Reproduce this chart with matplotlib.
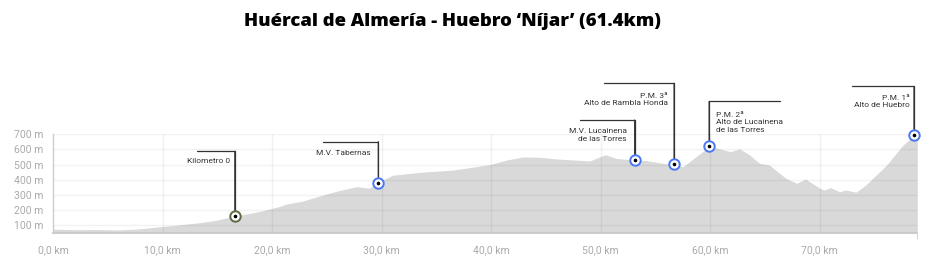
import matplotlib
matplotlib.use("Agg")
import matplotlib.pyplot as plt
from matplotlib.ticker import FuncFormatter

# ---- data ----
title = "Huércal de Almería - Huebro ‘Níjar’ (61.4km)"
km = [0, 2, 4, 5.8, 7.5, 9.8, 11.5, 13.4, 15, 16.5, 18, 19.2, 20.7, 21.3, 22.8, 24.4,
      25.9, 27.7, 28.9, 29.6, 31.0, 33.5, 36.5, 39.9, 41.4, 42.9, 44.5, 46.0, 49.0, 50.4,
      51.4, 53.0, 54.2, 55.7, 56.7, 57.5, 59.3, 59.9, 60.9, 61.8, 62.7, 63.6, 64.5, 65.4,
      66.9, 67.9, 68.7, 70.0, 70.4, 71.0, 71.8, 72.4, 73.3, 74.2, 76.1, 77.6, 78.6, 78.9]
elev = [75, 72, 73, 70, 75, 91, 103, 118, 135, 160, 180, 197, 225, 240, 260, 295,
        325, 355, 345, 381, 430, 449, 464, 500, 530, 550, 548, 537, 524, 565,
        541, 530, 526, 508, 500, 486, 585, 620, 603, 585, 603, 563, 508, 497,
        410, 377, 405, 344, 333, 348, 322, 333, 318, 366, 497, 629, 690, 695]

x_ticks = [0, 10, 20, 30, 40, 50, 60, 70]
y_ticks = [100, 200, 300, 400, 500, 600, 700]

marker_km = [16.6, 29.7, 53.1, 56.7, 59.9, 78.6]
marker_elev = [160, 381, 530, 502, 620, 692]
marker_labels = ["Kilometro 0", "M.V. Tabernas", "M.V. Lucainena\nde las Torres",
                 "P.M. 3ª\nAlto de Rambla Honda", "P.M. 2ª\nAlto de Lucainena\nde las Torres",
                 "P.M. 1ª\nAlto de Huebro"]
# callout geometry in pixels: (line up, horizontal run, text dx, text dy, side)
callout_px = [(65, -38, -5, 55, 'right'), (41, -55, -8, 30, 'right'),
              (40, -55, -8, 25, 'right'), (81, -70, -6, 65, 'right'),
              (45, 71, 7, 24, 'left'), (49, -62, -4, 34, 'right')]
marker_edge = ['#5c6b40', '#4a78f5', '#4a78f5', '#4a78f5', '#4a78f5', '#4a78f5']

# ---- figure ----
W, H, DPI = 943, 272, 100
fig = plt.figure(figsize=(W / DPI, H / DPI), dpi=DPI)
ax = fig.add_axes([53 / W, 1 - 233 / H, (917.3 - 53) / W, (233 - 134.2) / H])
ax.set_xlim(0, 78.9)
ax.set_ylim(50, 700)

ax.fill_between(km, 50, elev, color='#d9d9d9', lw=0, zorder=1)

for y in y_ticks:
    ax.axhline(y, color='black', alpha=0.05, lw=1, zorder=2)
for x in x_ticks[1:]:
    ax.axvline(x, color='black', alpha=0.05, lw=1, zorder=2)

for s in ['top', 'right']:
    ax.spines[s].set_visible(False)
ax.spines['left'].set_color('#cccccc')
ax.spines['bottom'].set_color('#c8c8c8')
ax.spines['left'].set_linewidth(1)
ax.spines['bottom'].set_linewidth(1.2)
ax.spines['left'].set_zorder(3)
ax.spines['bottom'].set_zorder(3)

ax.set_xticks(x_ticks)
ax.set_yticks(y_ticks)
ax.xaxis.set_major_formatter(FuncFormatter(lambda v, p: f"{v:.1f}".replace('.', ',') + " km"))
ax.yaxis.set_major_formatter(FuncFormatter(lambda v, p: f"{int(v)} m"))
ax.tick_params(axis='both', length=0, colors='#b0b0b0', labelsize=7.5)
ax.tick_params(axis='x', pad=9)
ax.tick_params(axis='y', pad=7)
for lab in ax.get_xticklabels() + ax.get_yticklabels():
    lab.set_fontfamily('Roboto')
    lab.set_color('#aaaaaa')
ax.set_xticks([0, 78.9], minor=True)
ax.set_yticks([700], minor=True)
ax.tick_params(which='minor', length=4, color='#cccccc', labelsize=0)

pt = 0.72
for i in range(len(marker_km)):
    up, run, tdx, tdy, side = callout_px[i]
    mx, my = marker_km[i], marker_elev[i]
    ax.annotate("", xy=(mx, my), xytext=(0, up * pt), textcoords='offset points',
                arrowprops=dict(arrowstyle='-', color='#333333', lw=0.9,
                                shrinkA=0, shrinkB=0), zorder=4)
    ax.annotate("", xy=(mx, my), xycoords='data', xytext=(run * pt, up * pt),
                textcoords='offset points', annotation_clip=False,
                arrowprops=dict(arrowstyle='-', color='#333333', lw=0.9,
                                shrinkA=0, shrinkB=0,
                                connectionstyle="angle,angleA=0,angleB=90,rad=0"),
                zorder=4)
    ax.annotate(marker_labels[i], xy=(mx, my), xytext=(tdx * pt, tdy * pt),
                textcoords='offset points', ha=side, va='center',
                multialignment=side, fontsize=6, color='#333333',
                fontfamily='Roboto', linespacing=1.25, annotation_clip=False)
    ax.plot([mx], [my], 'o', ms=7.5, mfc='white', mec=marker_edge[i], mew=1.4,
            zorder=5, clip_on=False)
    ax.plot([mx], [my], 'o', ms=1.6, color='black', zorder=6, clip_on=False)

fig.text(452.5 / W, 1 - 22 / H, title, ha='center', va='center', fontsize=13.3,
         fontweight='heavy', fontfamily='Open Sans', color='black')

fig.savefig('out.png', dpi=DPI)
